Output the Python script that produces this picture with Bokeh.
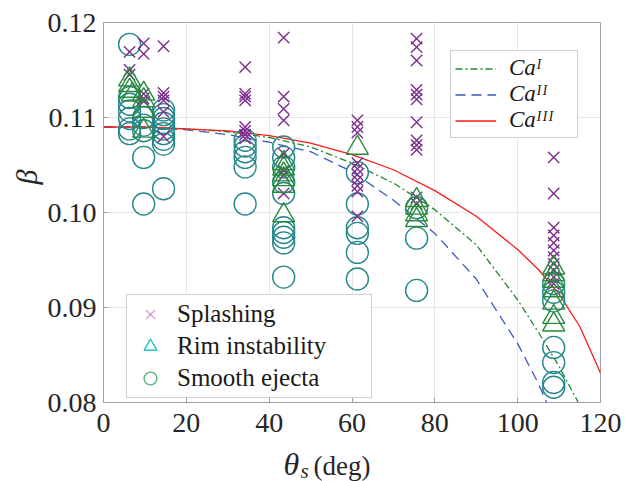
from bokeh.plotting import figure
from bokeh.layouts import column
from bokeh.embed import file_html
from bokeh.resources import INLINE
from bokeh.models import Legend, LegendItem, Label, Title, NumeralTickFormatter, FixedTicker

# ---------------- data ----------------
# model curves
theta_curve = [0, 10, 20, 30, 40, 50, 60, 70, 80, 90, 100, 105, 110, 115, 120]
beta_ca1 = [0.1090, 0.1090, 0.1088, 0.1085, 0.1079, 0.1069, 0.1052, 0.1031, 0.1003, 0.0966, 0.0908, 0.0874, 0.0838, 0.0797, 0.0752]
beta_ca2 = [0.1090, 0.1090, 0.1087, 0.1082, 0.1074, 0.1064, 0.1043, 0.1013, 0.0978, 0.0930, 0.0862, 0.0820, 0.0770, 0.0725, 0.0680]
beta_ca3 = [0.1090, 0.1090, 0.1088, 0.1086, 0.1081, 0.1073, 0.1061, 0.1045, 0.1023, 0.0996, 0.0961, 0.0940, 0.0914, 0.0880, 0.0831]

# Splashing
spl_theta = ([6.3] * 3 + [9.7] * 5 + [14.5] * 6 + [34.2] * 8 + [43.5] * 8 +
             [61.3] * 10 + [75.6] * 12 + [108.7] * 11)
spl_beta = [0.1169, 0.1150, 0.1145,
            0.1178, 0.1167, 0.1125, 0.1120, 0.1117,
            0.1175, 0.1126, 0.1122, 0.1118, 0.1106, 0.1080,
            0.1153, 0.1125, 0.1122, 0.1118, 0.1090, 0.1086, 0.1082, 0.1078,
            0.1184, 0.1122, 0.1109, 0.1097, 0.1062, 0.1044, 0.1039, 0.1020,
            0.1097, 0.1090, 0.1084, 0.1052, 0.1046, 0.1040, 0.1034, 0.1028, 0.1022, 0.0996,
            0.1183, 0.1174, 0.1160, 0.1129, 0.1124, 0.1119, 0.1095, 0.1076, 0.1071, 0.1066, 0.1016, 0.1009,
            0.1058, 0.1020, 0.0984, 0.0976, 0.0968, 0.0960, 0.0953, 0.0946, 0.0939, 0.0932, 0.0925]

# Rim instability
rim_theta = ([6.3] * 3 + [7.0] + [9.7] * 4 + [43.5] * 6 + [61.3] + [75.6] * 4 + [108.7] * 7)
rim_beta = [0.1140, 0.1134, 0.1128, 0.1124,
            0.1125, 0.1118, 0.1107, 0.1086,
            0.1052, 0.1046, 0.1040, 0.1035, 0.1028, 0.0997,
            0.1068,
            0.1013, 0.1005, 0.0998, 0.0992,
            0.0942, 0.0935, 0.0928, 0.0918, 0.0905, 0.0890, 0.0882]

# Smooth ejecta
smo_theta = ([6.3] * 7 + [9.7] * 5 + [14.5] * 9 + [34.2] * 6 + [43.5] * 10 +
             [61.3] * 6 + [75.6] * 3 + [108.7] * 7)
smo_beta = [0.1177, 0.1121, 0.1114, 0.1107, 0.1099, 0.1088, 0.1083,
            0.1100, 0.1092, 0.1086, 0.1058, 0.1009,
            0.1108, 0.1103, 0.1099, 0.1094, 0.1088, 0.1083, 0.1077, 0.1072, 0.1025,
            0.1076, 0.1070, 0.1064, 0.1058, 0.1048, 0.1009,
            0.1069, 0.1058, 0.1048, 0.1032, 0.1020, 0.0984, 0.0979, 0.0974, 0.0968, 0.0932,
            0.1042, 0.1009, 0.0984, 0.0978, 0.0958, 0.0930,
            0.1005, 0.0973, 0.0918,
            0.0925, 0.0916, 0.0907, 0.0858, 0.0842, 0.0821, 0.0816]

x_ticks = [0, 20, 40, 60, 80, 100, 120]
y_ticks = [0.08, 0.09, 0.10, 0.11, 0.12]
curve_labels = ["Ca\u1d35", "Ca\u1d35\u1d35", "Ca\u1d35\u1d35\u1d35"]   # Ca^I, Ca^II, Ca^III
point_labels = ["Splashing", "Rim instability", "Smooth ejecta"]

# ---------------- styling ----------------
FONT = "Liberation Serif"
C_SPL, C_RIM, C_SMO = "#7E2E8E", "#2A8A3E", "#25878A"
L_SPL, L_RIM, L_SMO = "#D9A0D3", "#2EC0C8", "#5DB07E"
C1, C2, C3 = "#1E8A32", "#3A5BC0", "#FF1A1A"
TXT = "#262626"
NAN = float("nan")

p = figure(width=630, height=445, x_range=(0, 120), y_range=(0.08, 0.12),
           output_backend="svg", toolbar_location=None,
           min_border_left=103, min_border_right=30, min_border_top=22, min_border_bottom=43)
p.background_fill_color = "white"
p.outline_line_color = "#A0A0A0"
p.grid.grid_line_color = "#E6E6E6"
p.grid.grid_line_width = 1

p.xaxis.ticker = FixedTicker(ticks=x_ticks)
p.yaxis.ticker = FixedTicker(ticks=y_ticks)
p.yaxis.formatter = NumeralTickFormatter(format="0.00")
p.xaxis.formatter = NumeralTickFormatter(format="0")
for ax in (p.xaxis, p.yaxis):
    ax.axis_line_color = "#A0A0A0"
    ax.major_tick_line_color = "#A0A0A0"
    ax.major_tick_in = 5
    ax.major_tick_out = 0
    ax.minor_tick_line_color = None
    ax.major_label_text_font = FONT
    ax.major_label_text_font_size = "28px"
    ax.major_label_text_color = TXT
p.xaxis.major_label_standoff = 11
p.yaxis.major_label_standoff = 7

# y label: a left-side title, placed above the centre as in the reference
p.add_layout(Title(text="β", align="right", offset=147, standoff=3, text_font=FONT,
                   text_font_style="italic", text_font_size="30px", text_color=TXT), "left")

# curves
r1 = p.line(theta_curve, beta_ca1, line_color=C1, line_width=1.3, line_dash="7 3 2 3")
r2 = p.line(theta_curve, beta_ca2, line_color=C2, line_width=1.3, line_dash="10 6")
r3 = p.line(theta_curve, beta_ca3, line_color=C3, line_width=1.3)

# points
p.scatter(smo_theta, smo_beta, marker="circle", size=22, fill_color=None,
          line_color=C_SMO, line_width=1.4)
p.scatter(spl_theta, spl_beta, marker="x", size=16, line_color=C_SPL, line_width=1.4)
p.scatter(rim_theta, rim_beta, marker="triangle", size=22, fill_color=None,
          line_color=C_RIM, line_width=1.4)

# legend proxies (no visible data)
d1 = p.scatter(x=[NAN], y=[NAN], marker="x", size=18, line_color=L_SPL, line_width=1.4)
d2 = p.scatter(x=[NAN], y=[NAN], marker="triangle", size=18, fill_color=None, line_color=L_RIM, line_width=1.4)
d3 = p.scatter(x=[NAN], y=[NAN], marker="circle", size=18, fill_color=None, line_color=L_SMO, line_width=1.4)

leg1 = Legend(items=[LegendItem(label=t, renderers=[r]) for t, r in zip(point_labels, [d1, d2, d3])],
              location=(23, 4), padding=3, spacing=0, margin=0,
              glyph_width=40, glyph_height=32, label_height=29, label_width=191,
              label_standoff=7, label_text_font=FONT, label_text_font_size="25px",
              label_text_color="#1A1A1A", border_line_color="#A0A0A0",
              border_line_width=1, background_fill_alpha=1)
p.add_layout(leg1)

leg2 = Legend(items=[LegendItem(label=t, renderers=[r]) for t, r in zip(curve_labels, [r1, r2, r3])],
              location=(347, 264), padding=4, spacing=0, margin=0,
              glyph_width=41, glyph_height=25, label_height=25, label_width=64,
              label_standoff=13, label_text_font=FONT, label_text_font_size="23px",
              label_text_font_style="italic",
              label_text_color="#1A1A1A", border_line_color="#A0A0A0",
              border_line_width=1, background_fill_alpha=1)
p.add_layout(leg2)

# x axis label strip (its frame is aligned with the main frame by the column layout)
q = figure(width=630, height=36, x_range=(0, 630), y_range=(0, 36),
           output_backend="svg", toolbar_location=None, x_axis_type=None, y_axis_type=None,
           min_border_left=0, min_border_right=0, min_border_top=0, min_border_bottom=0)
q.outline_line_color = None
q.grid.visible = False
q.add_layout(Label(x=180, y=36, x_units="screen", y_units="screen", text="θ", text_font=FONT,
                   text_font_style="italic", text_font_size="32px", text_color=TXT,
                   text_baseline="top"))
q.add_layout(Label(x=197, y=23, x_units="screen", y_units="screen", text="s", text_font=FONT,
                   text_font_style="italic", text_font_size="21px", text_color=TXT,
                   text_baseline="top"))
q.add_layout(Label(x=210, y=31, x_units="screen", y_units="screen", text="(deg)", text_font=FONT,
                   text_font_size="27px", text_color=TXT, text_baseline="top"))

layout = column(p, q, spacing=0)
open("out.html", "w").write(file_html(layout, INLINE))
